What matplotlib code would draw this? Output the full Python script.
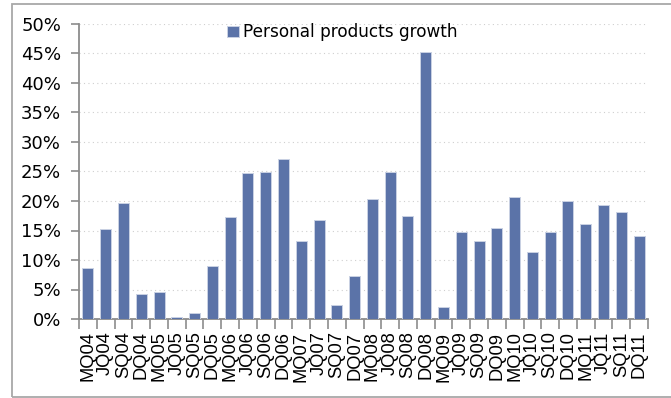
import numpy as np
import matplotlib.pyplot as plt
from matplotlib.patches import Rectangle
from matplotlib.ticker import FuncFormatter, FixedLocator

quarters = ['MQ04', 'JQ04', 'SQ04', 'DQ04', 'MQ05', 'JQ05', 'SQ05', 'DQ05',
            'MQ06', 'JQ06', 'SQ06', 'DQ06', 'MQ07', 'JQ07', 'SQ07', 'DQ07',
            'MQ08', 'JQ08', 'SQ08', 'DQ08', 'MQ09', 'JQ09', 'SQ09', 'DQ09',
            'MQ10', 'JQ10', 'SQ10', 'DQ10', 'MQ11', 'JQ11', 'SQ11', 'DQ11']
growth = [8.6, 15.2, 19.6, 4.2, 4.5, 0.3, 1.0, 8.9,
          17.3, 24.7, 24.9, 27.1, 13.3, 16.8, 2.4, 7.3,
          20.3, 24.9, 17.5, 45.2, 2.0, 14.7, 13.3, 15.4,
          20.7, 11.3, 14.7, 20.0, 16.1, 19.4, 18.2, 14.1]
series_name = 'Personal products growth'

bar_color = '#5b73a8'
axis_color = '#8c8c8c'

fig = plt.figure(figsize=(6.71, 3.98), dpi=100)
ax = fig.add_axes([79 / 671, 1 - 319 / 398, (648 - 79) / 671, (319 - 24) / 398])

x = np.arange(len(quarters))
ax.bar(x, growth, width=0.62, color=bar_color, edgecolor='#c9d1e3',
       linewidth=0.7, label=series_name, zorder=3)

ax.set_xlim(-0.5, len(quarters) - 0.5)
ax.set_ylim(0, 50)
ax.set_yticks(np.arange(0, 51, 5))
ax.yaxis.set_major_formatter(FuncFormatter(lambda v, p: f'{v:.0f}%'))
ax.yaxis.grid(True, color='#cfcfcf', linestyle=(0, (1, 3)), linewidth=0.8, zorder=0)

# category labels centred under bars, tick marks on the boundaries
ax.set_xticks(x)
ax.set_xticklabels(quarters, rotation=90, fontsize=13.2, family='Liberation Sans')
ax.tick_params(axis='x', which='major', length=0, pad=9)
ax.xaxis.set_minor_locator(FixedLocator(np.arange(-0.5, len(quarters), 1)))
ax.tick_params(axis='x', which='minor', length=7, width=1.2, color=axis_color)
ax.tick_params(axis='y', length=6, width=1.2, color=axis_color, labelsize=13, pad=7)

for side in ['top', 'right']:
    ax.spines[side].set_visible(False)
for side in ['left', 'bottom']:
    ax.spines[side].set_color(axis_color)
    ax.spines[side].set_linewidth(1.3)

ax.legend(loc='upper left', bbox_to_anchor=(141 / 569, 1.025), frameon=False,
          fontsize=12.2, handlelength=0.7, handleheight=0.7,
          handletextpad=0.25, borderaxespad=0)

# outer frame round the figure
fig.patches.append(Rectangle((12 / 671, 1 / 398), 1.1, 393 / 398,
                             transform=fig.transFigure, fill=False,
                             edgecolor='#a8a8a8', linewidth=1.3))

fig.savefig('out.png', dpi=100)
